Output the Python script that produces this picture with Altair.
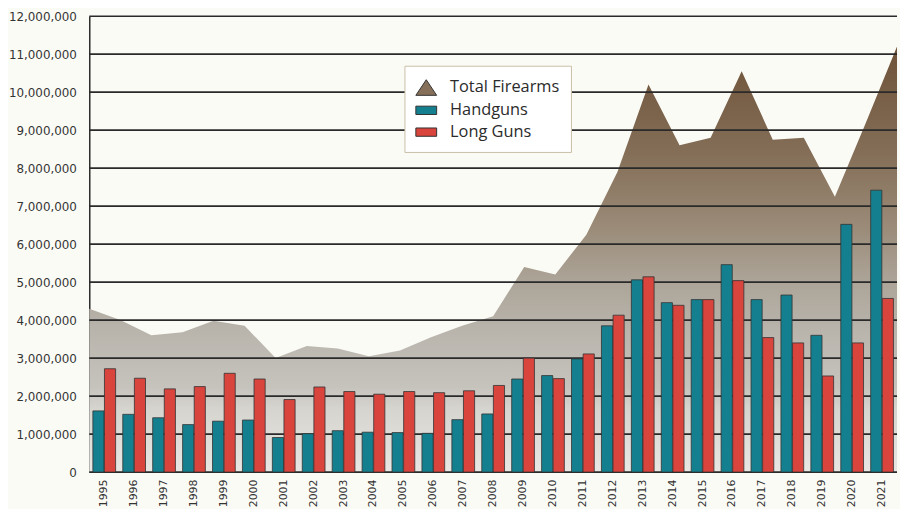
import altair as alt
import pandas as pd

years = list(range(1995, 2022))
handguns = [1.61, 1.52, 1.43, 1.25, 1.34, 1.37, 0.91, 1.01, 1.09, 1.05, 1.04, 1.02, 1.38,
            1.53, 2.45, 2.54, 2.98, 3.85, 5.06, 4.46, 4.54, 5.46, 4.54, 4.66, 3.60, 6.52, 7.42]
long_guns = [2.72, 2.47, 2.19, 2.25, 2.60, 2.45, 1.91, 2.24, 2.12, 2.05, 2.12, 2.09, 2.14,
             2.28, 3.00, 2.46, 3.11, 4.13, 5.14, 4.39, 4.54, 5.04, 3.54, 3.40, 2.53, 3.40, 4.57]
total_firearms = [4.30, 4.00, 3.60, 3.68, 3.98, 3.85, 3.00, 3.32, 3.25, 3.05, 3.20, 3.55, 3.85,
                  4.10, 5.40, 5.20, 6.25, 7.90, 10.20, 8.60, 8.80, 10.55, 8.75, 8.80, 7.25, 9.20, 11.20]
series_names = ["Total Firearms", "Handguns", "Long Guns"]
series_colors = ["#86705a", "#14808f", "#d9443d"]
series_shapes = ["M-1,0.75L0,-0.75L1,0.75Z", "M-1,-0.4H1V0.4H-1Z", "M-1,-0.4H1V0.4H-1Z"]
y_ticks = [0, 1e6, 2e6, 3e6, 4e6, 5e6, 6e6, 7e6, 8e6, 9e6, 10e6, 11e6, 12e6]

M = 1_000_000
bars_df = pd.DataFrame(
    [{"year": y, "series": "Handguns", "value": v * M} for y, v in zip(years, handguns)]
    + [{"year": y, "series": "Long Guns", "value": v * M} for y, v in zip(years, long_guns)]
)
area_df = pd.DataFrame({"year": years, "value": [v * M for v in total_firearms]})
grid_df = pd.DataFrame({"value": y_ticks})

y_scale = alt.Scale(domain=[0, 12 * M], nice=False, zero=True)
y_axis = alt.Axis(
    values=y_ticks, format=",d", grid=False, ticks=False, domain=True,
    domainColor="#2a2a2a", domainWidth=1.5, labelFont="DejaVu Sans", labelFontSize=12,
    labelColor="#333333", labelPadding=13, title=None,
)

gradient = {
    "gradient": "linear", "x1": 0, "y1": 1, "x2": 0, "y2": 0,
    "stops": [
        {"offset": 0.0, "color": "#e8e7e3"},
        {"offset": 0.15, "color": "#d6d4cf"},
        {"offset": 0.2, "color": "#c6c3bd"},
        {"offset": 0.32, "color": "#bab6ae"},
        {"offset": 0.45, "color": "#aca498"},
        {"offset": 0.58, "color": "#9a8a77"},
        {"offset": 0.75, "color": "#846e57"},
        {"offset": 1.0, "color": "#6e5238"},
    ],
}

area = alt.Chart(area_df).mark_area(color=gradient, interpolate="linear").encode(
    x=alt.X("year:Q", scale=alt.Scale(domain=[1995, 2021], nice=False, zero=False), axis=None),
    y=alt.Y("value:Q", scale=y_scale, axis=y_axis),
)

grid = alt.Chart(grid_df).mark_rule(color="#2a2a2a", strokeWidth=1.6).encode(
    y=alt.Y("value:Q", scale=y_scale, axis=y_axis),
)

color_scale = alt.Scale(domain=series_names, range=series_colors)
shape_scale = alt.Scale(domain=series_names, range=series_shapes)

legend = alt.Legend(
    title=None, orient="none", legendX=318, legendY=50,
    fillColor="#ffffff", strokeColor="#c9bfa6", padding=11,
    labelFont="Open Sans", labelFontSize=16.5, labelColor="#2b2b2b", labelOffset=13,
    rowPadding=2, symbolSize=440, symbolStrokeColor="#333333", symbolStrokeWidth=1,
)

bars = alt.Chart(bars_df).mark_bar(stroke="#333333", strokeWidth=0.8).encode(
    x=alt.X("year:O", scale=alt.Scale(paddingInner=0.24, paddingOuter=0.12),
            axis=alt.Axis(labelAngle=-90, labelAlign="right", labelBaseline="middle",
                          labelPadding=7, ticks=False, domain=False, title=None,
                          labelFont="DejaVu Sans", labelFontSize=11, labelColor="#333333")),
    xOffset=alt.XOffset("series:N", sort=series_names[1:], scale=alt.Scale(paddingInner=0.04)),
    y=alt.Y("value:Q", scale=y_scale, axis=y_axis),
    color=alt.Color("series:N", scale=color_scale, legend=legend),
)

legend_layer = alt.Chart(bars_df).transform_filter("false").mark_point(
    filled=True, stroke="#333333", strokeWidth=1, opacity=1
).encode(
    color=alt.Color("series:N", scale=color_scale, legend=legend),
    shape=alt.Shape("series:N", scale=shape_scale, legend=legend),
)

chart = alt.layer(area, grid, bars, legend_layer).resolve_scale(x="independent").properties(
    width=815, height=460, background="#fbfbf6",
    padding={"left": 0, "top": 0, "right": 2, "bottom": 0},
).configure_view(stroke=None)

chart.save("out.html", embed_options={"renderer": "svg", "actions": False})
